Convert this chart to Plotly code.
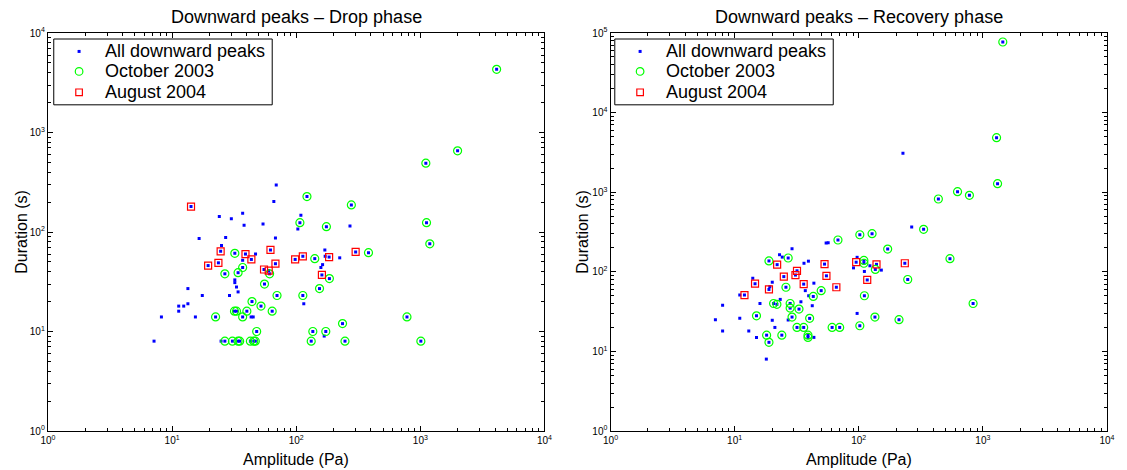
import plotly.graph_objects as go

# ---------------- Left panel: Drop phase ----------------
drop_all_amp = [69, 122, 66, 14.2, 37, 24, 30, 109, 107, 38, 54, 103, 175, 16.5, 27, 68, 25,
                24.6, 32, 39, 47, 62, 43.5, 37, 170, 171, 113, 98, 141, 184, 19.5, 23.6, 37,
                68, 163, 158, 55, 60, 61, 26.6, 34, 161, 185, 32, 32, 55.5, 33, 154, 13.4, 34,
                17.5, 29, 70, 113, 13.4, 11.3, 12.4, 44, 52, 115, 11.3, 31.8, 33, 40, 64, 8.2,
                15.4, 22.4, 37, 43.3, 45, 48, 136, 173, 168, 7.15, 24.8, 26.6, 30.6, 34, 35,
                42.7, 45.5, 46.8, 132, 278, 271, 301, 382, 224, 236, 247, 4116, 1995, 1107,
                1121, 1191, 780, 1009]
drop_all_dur = [297, 227, 202, 180, 154, 143, 136, 147, 124, 117, 120, 107, 113, 86, 88, 87, 73,
                64, 61, 60, 60, 66, 53, 52, 66, 57, 57, 53, 54, 56, 46, 49, 44,
                48, 47, 44, 42, 41, 38, 38, 39, 37, 34, 33, 31, 30, 28, 27, 27, 25,
                23, 23, 23, 23, 19, 18, 18, 20, 18, 19, 16, 16, 16, 16, 16, 14,
                14, 14, 14, 14, 14, 10, 10, 10, 9, 8, 8, 8, 8, 8, 8,
                8, 8, 8, 8, 187, 115, 63, 62, 55, 12, 8, 4310, 654, 492,
                124, 76, 14, 8]

drop_oct_amp = [122, 107, 175, 32, 141, 37, 61, 26.6, 34, 185, 55.5, 154, 70, 113, 44, 52, 31.8,
                33, 40, 64, 22.4, 37, 48, 136, 173, 26.6, 30.6, 34, 35, 42.7, 45.5, 46.8, 132,
                278, 382, 236, 247, 4116, 1995, 1107, 1121, 1191, 780, 1009]
drop_oct_dur = [227, 124, 113, 61, 54, 44, 38, 38, 39, 34, 30, 27, 23, 23, 20, 18, 16,
                16, 16, 16, 14, 14, 10, 10, 10, 8, 8, 8, 8, 8, 8, 8, 8,
                187, 62, 12, 8, 4310, 654, 492, 124, 76, 14, 8]

drop_aug_amp = [14.2, 24.6, 39, 62, 43.5, 113, 98, 184, 19.5, 23.6, 68, 55, 60, 161, 301]
drop_aug_dur = [180, 64, 60, 66, 53, 57, 53, 56, 46, 49, 48, 42, 41, 37, 63]

# ---------------- Right panel: Recovery phase ----------------
rec_all_amp = [102, 68, 54.6, 56.7, 29, 18.9, 23, 24.2, 27, 22, 36.2, 39.3, 53, 95.3, 97, 110, 110,
               90.7, 31.8, 30.9, 24.9, 54.9, 14, 14.6, 20.1, 36, 19.2, 18.9, 25.9, 43.5, 66, 37.1,
               49.8, 11, 12, 39.5, 43, 111, 23.3, 16, 20.6, 21.9, 28, 34.2, 8, 28, 33, 42.2, 15,
               29, 40.2, 97, 11, 20.1, 7, 27, 31.8, 36, 61, 70.2, 102, 21.1, 8, 13, 18.1, 24, 39,
               39, 43.5, 15, 18.9, 18, 1447, 1289, 227, 1313, 625, 779, 438, 267, 333, 128, 171,
               123, 139, 136, 152, 111, 235, 543, 117, 248, 834, 135, 211]
rec_all_dur = [292, 251, 230, 232, 195, 137, 164, 153, 149, 123, 128, 136, 125, 132, 152, 139, 128,
               112, 103, 91, 87, 89, 83, 71, 74, 70, 65, 60, 64, 72, 64, 58,
               58, 51, 51, 50, 49, 50, 45, 40, 40, 39, 40, 42, 38, 35, 34, 37.5, 28,
               27, 26, 30, 26, 24.6, 25, 24.8, 20, 20, 20, 20, 21, 20, 18, 18, 16, 16, 16,
               15, 15, 15, 13, 8, 77100, 4840, 3080, 1279, 1015, 914, 821, 365, 342, 301, 193,
               119, 124, 107, 105, 101, 128, 146, 79, 80, 40, 27, 25]

rec_oct_amp = [102, 68, 18.9, 27, 110, 110, 25.9, 49.8, 43, 111, 20.6, 21.9, 28, 28, 33, 15, 29,
               40.2, 31.8, 36, 61, 70.2, 102, 18.1, 24, 39, 39, 18.9, 1447, 1289, 1313, 625, 779,
               438, 333, 128, 171, 136, 543, 248, 834, 135, 211]
rec_oct_dur = [292, 251, 137, 149, 139, 128, 64, 58, 49, 50, 40, 39, 40, 35, 34, 28, 27,
               26, 20, 20, 20, 20, 21, 16, 16, 16, 15, 13, 77100, 4840, 1279, 1015, 914,
               821, 342, 301, 193, 107, 146, 80, 40, 27, 25]

rec_aug_amp = [22, 53, 95.3, 31.8, 30.9, 24.9, 54.9, 14.6, 36, 18.9, 66, 12, 139, 235, 117]
rec_aug_dur = [123, 125, 132, 103, 91, 87, 89, 71, 70, 60, 64, 51, 124, 128, 79]

titles = ["Downward peaks \u2013 Drop phase", "Downward peaks \u2013 Recovery phase"]
series_names = ["All downward peaks", "October 2003", "August 2004"]
series_colors = ["#0000ff", "#00ff00", "#ff0000"]

# ---------------- Figure ----------------
# page body adds an 8px offset, so the figure is 8px smaller and coordinates shifted
OFF = 8
W, H = 1127 - OFF, 470 - OFF
ml, mr, mt, mb = 47.5 - OFF, 13, 33.3 - OFF, 39.4
pw = W - ml - mr
ph = H - mt - mb
Y_BOTTOM = 430.6  # window px of the x axes


def px_x(p):
    return (p - 47.5) / pw


def px_y(p):
    return (Y_BOTTOM - p) / ph


fig = go.Figure()

panels = [
    (drop_all_amp, drop_all_dur, drop_oct_amp, drop_oct_dur, drop_aug_amp, drop_aug_dur, "x", "y"),
    (rec_all_amp, rec_all_dur, rec_oct_amp, rec_oct_dur, rec_aug_amp, rec_aug_dur, "x2", "y2"),
]

for (aa, ad, oa, od, ga, gd, xa, ya) in panels:
    fig.add_trace(go.Scatter(x=aa, y=ad, mode="markers", name=series_names[0],
                             xaxis=xa, yaxis=ya, showlegend=False,
                             marker=dict(symbol="square", size=3, color=series_colors[0],
                                         line=dict(width=0))))
    fig.add_trace(go.Scatter(x=oa, y=od, mode="markers", name=series_names[1],
                             xaxis=xa, yaxis=ya, showlegend=False,
                             marker=dict(symbol="circle-open", size=8, color=series_colors[1],
                                         line=dict(width=1.2, color=series_colors[1]))))
    fig.add_trace(go.Scatter(x=ga, y=gd, mode="markers", name=series_names[2],
                             xaxis=xa, yaxis=ya, showlegend=False,
                             marker=dict(symbol="square-open", size=7, color=series_colors[2],
                                         line=dict(width=1.2, color=series_colors[2]))))


def major(n):
    return [10 ** i for i in range(n + 1)]


def minor(n):
    return [m * 10 ** i for i in range(n) for m in range(2, 10)]


def labels(n):
    return ["10<sup>%d</sup>" % i for i in range(n + 1)]


axis_common = dict(type="log", showline=True, linecolor="black", linewidth=1.3,
                   mirror="ticks", ticks="inside", ticklen=5, tickwidth=1, tickcolor="black",
                   showgrid=False, zeroline=False, tickfont=dict(size=10, color="black"))


def minor_cfg(n):
    return dict(tickmode="array", tickvals=minor(n), ticks="inside", ticklen=3, tickcolor="black")


fig.update_layout(
    xaxis=dict(domain=[0, px_x(547.5)], range=[0, 4], tickmode="array",
               tickvals=major(4), ticktext=labels(4), minor=minor_cfg(4), anchor="y", **axis_common),
    yaxis=dict(domain=[0, 1], range=[0, 4], tickmode="array",
               tickvals=major(4), ticktext=labels(4), minor=minor_cfg(4), anchor="x", **axis_common),
    xaxis2=dict(domain=[px_x(614), 1], range=[0, 4], tickmode="array",
                tickvals=major(4), ticktext=labels(4), minor=minor_cfg(4), anchor="y2", **axis_common),
    yaxis2=dict(domain=[0, 1], range=[0, 5], tickmode="array",
                tickvals=major(5), ticktext=labels(5), minor=minor_cfg(5), anchor="x2", **axis_common),
)

# ---------------- Legends (box, keys and labels) ----------------
shapes = []
ann = []
row_y = [51.7, 71.7, 92.5]
for box_left in [53.3, 618.3]:
    shapes.append(dict(type="rect", xref="paper", yref="paper", layer="above",
                       x0=px_x(box_left), x1=px_x(box_left + 220),
                       y0=px_y(105), y1=px_y(39.3),
                       line=dict(color="black", width=1), fillcolor="white"))
    kx = px_x(box_left + 25.5)
    # blue dot key
    shapes.append(dict(type="rect", xref="paper", yref="paper", layer="above",
                       xsizemode="pixel", ysizemode="pixel", xanchor=kx, yanchor=px_y(row_y[0]),
                       x0=-1.5, x1=1.5, y0=-1.5, y1=1.5,
                       line=dict(width=0), fillcolor=series_colors[0]))
    # green circle key
    shapes.append(dict(type="circle", xref="paper", yref="paper", layer="above",
                       xsizemode="pixel", ysizemode="pixel", xanchor=kx, yanchor=px_y(row_y[1]),
                       x0=-3.8, x1=3.8, y0=-3.8, y1=3.8,
                       line=dict(width=1.2, color=series_colors[1]), fillcolor="rgba(0,0,0,0)"))
    # red square key
    shapes.append(dict(type="rect", xref="paper", yref="paper", layer="above",
                       xsizemode="pixel", ysizemode="pixel", xanchor=kx, yanchor=px_y(row_y[2]),
                       x0=-3.3, x1=3.3, y0=-3.3, y1=3.3,
                       line=dict(width=1.2, color=series_colors[2]), fillcolor="rgba(0,0,0,0)"))
    for name, ry in zip(series_names, row_y):
        ann.append(dict(text=name, x=px_x(box_left + 49.5), y=px_y(ry), xref="paper", yref="paper",
                        showarrow=False, xanchor="left", yanchor="middle",
                        font=dict(size=18, color="black")))

for cx, t in zip([297.5, 864], titles):
    ann.append(dict(text=t, x=px_x(cx), y=px_y(17), xref="paper", yref="paper",
                    showarrow=False, xanchor="center", yanchor="middle",
                    font=dict(size=18, color="black")))
    ann.append(dict(text="Amplitude (Pa)", x=px_x(cx), y=px_y(459),
                    xref="paper", yref="paper", showarrow=False, xanchor="center",
                    yanchor="middle", font=dict(size=16, color="black")))
for lx in [20, 585]:
    ann.append(dict(text="Duration (s)", x=px_x(lx), y=0.5, xref="paper", yref="paper",
                    showarrow=False, textangle=-90, xanchor="center", yanchor="middle",
                    font=dict(size=16, color="black")))

fig.update_layout(
    width=W, height=H, autosize=False,
    margin=dict(l=ml, r=mr, t=mt, b=mb, pad=0),
    paper_bgcolor="white", plot_bgcolor="white",
    font=dict(family="Liberation Sans, Arial, sans-serif", color="black"),
    annotations=ann,
    shapes=shapes,
    showlegend=False,
)

fig.write_html("out.html")
